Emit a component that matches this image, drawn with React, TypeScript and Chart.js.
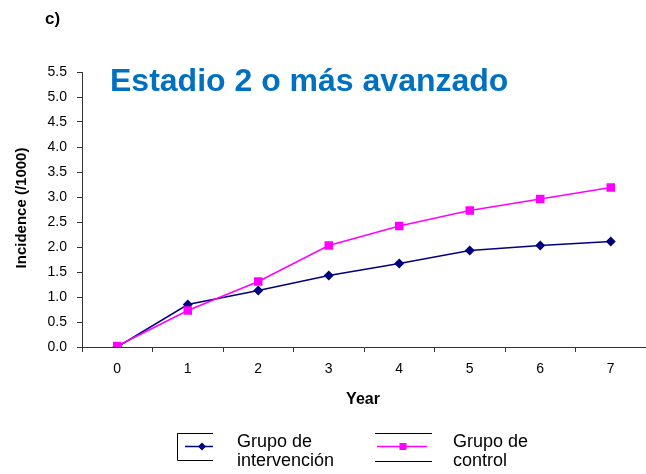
import React, { useEffect, useRef } from "react";
import { Chart, registerables } from "chart.js";

Chart.register(...registerables);

// Years since start and cumulative incidence per 1000
const years = ["0", "1", "2", "3", "4", "5", "6", "7"];
const intervencion = [0.0, 0.85, 1.13, 1.43, 1.67, 1.93, 2.03, 2.11];
const control = [0.02, 0.73, 1.31, 2.03, 2.42, 2.73, 2.96, 3.19];
const yMin = 0;
const yMax = 5.5;
const yStep = 0.5;

const FONT = "'Liberation Sans', Arial, Helvetica, sans-serif";
const NAVY = "#000080";
const PINK = "#FF00FF";
const AXIS = "#333333";

const decorations = {
  id: "decorations",
  afterDraw(chart: Chart) {
    const ctx = chart.ctx;
    ctx.save();

    // panel label
    ctx.fillStyle = "#000";
    ctx.font = `bold 17px ${FONT}`;
    ctx.textAlign = "left";
    ctx.textBaseline = "middle";
    ctx.fillText("c)", 45, 19);

    // title
    ctx.fillStyle = "#0070C0";
    ctx.font = `bold 32px ${FONT}`;
    ctx.textBaseline = "alphabetic";
    ctx.fillText("Estadio 2 o más avanzado", 110, 91);

    // axis titles
    ctx.fillStyle = "#000";
    ctx.font = `bold 16px ${FONT}`;
    ctx.textAlign = "center";
    ctx.textBaseline = "middle";
    ctx.fillText("Year", 363, 400);
    ctx.font = `bold 15px ${FONT}`;
    ctx.save();
    ctx.translate(22, 208);
    ctx.rotate(-Math.PI / 2);
    ctx.fillText("Incidence (/1000)", 0, 0);
    ctx.restore();

    // legend
    ctx.strokeStyle = "#000";
    ctx.lineWidth = 1;
    ctx.beginPath();
    ctx.moveTo(213, 433.5);
    ctx.lineTo(177.5, 433.5);
    ctx.lineTo(177.5, 460.5);
    ctx.lineTo(213, 460.5);
    ctx.moveTo(375, 433.5);
    ctx.lineTo(432, 433.5);
    ctx.moveTo(375, 461.5);
    ctx.lineTo(432, 461.5);
    ctx.stroke();

    ctx.strokeStyle = NAVY;
    ctx.lineWidth = 1.5;
    ctx.beginPath();
    ctx.moveTo(185, 446.5);
    ctx.lineTo(213, 446.5);
    ctx.stroke();
    ctx.fillStyle = NAVY;
    ctx.beginPath();
    ctx.moveTo(202, 442.5);
    ctx.lineTo(206, 446.5);
    ctx.lineTo(202, 450.5);
    ctx.lineTo(198, 446.5);
    ctx.closePath();
    ctx.fill();

    ctx.strokeStyle = PINK;
    ctx.beginPath();
    ctx.moveTo(377, 446.5);
    ctx.lineTo(427, 446.5);
    ctx.stroke();
    ctx.fillStyle = PINK;
    ctx.fillRect(399.5, 443, 7, 7);

    ctx.fillStyle = "#000";
    ctx.font = `18px ${FONT}`;
    ctx.textAlign = "left";
    ctx.textBaseline = "alphabetic";
    ctx.fillText("Grupo de", 237, 447);
    ctx.fillText("intervención", 237, 466);
    ctx.fillText("Grupo de", 453, 447);
    ctx.fillText("control", 453, 466);

    ctx.restore();
  },
};

export default function App() {
  const ref = useRef<HTMLCanvasElement>(null);

  useEffect(() => {
    if (!ref.current) return;
    Chart.defaults.font.family = FONT;
    const chart = new Chart(ref.current, {
      type: "line",
      data: {
        labels: years,
        datasets: [
          {
            label: "Grupo de intervención",
            data: intervencion,
            borderColor: NAVY,
            backgroundColor: NAVY,
            borderWidth: 1.5,
            pointStyle: "rectRot",
            pointRadius: 5,
            pointBorderWidth: 0,
            tension: 0,
            order: 1,
          },
          {
            label: "Grupo de control",
            data: control,
            borderColor: PINK,
            backgroundColor: PINK,
            borderWidth: 1.5,
            pointStyle: "rect",
            pointRadius: 6,
            pointBorderWidth: 0,
            tension: 0,
            order: 0,
          },
        ],
      },
      options: {
        responsive: false,
        animation: false,
        layout: { autoPadding: false, padding: { top: 72, left: 0, right: 0, bottom: 0 } },
        plugins: {
          legend: { display: false },
          tooltip: { enabled: false },
          title: { display: false },
        },
        scales: {
          x: {
            offset: true,
            grid: {
              display: true,
              drawOnChartArea: false,
              drawTicks: true,
              tickLength: 5,
              color: AXIS,
              offset: true,
            },
            border: { color: AXIS, width: 1 },
            ticks: { color: "#000", font: { size: 14, family: FONT }, padding: 9, maxRotation: 0 },
            afterFit(scale: any) {
              scale.height = 127;
              scale.paddingRight = 0;
              scale.paddingLeft = 0;
            },
          },
          y: {
            min: yMin,
            max: yMax,
            grid: {
              display: true,
              drawOnChartArea: false,
              drawTicks: true,
              tickLength: 5,
              color: AXIS,
            },
            border: { color: AXIS, width: 1 },
            ticks: {
              stepSize: yStep,
              color: "#000",
              font: { size: 14, family: FONT },
              padding: 10,
              callback: (v: any) => Number(v).toFixed(1),
            },
            afterFit(scale: any) {
              scale.width = 82;
            },
          },
        },
      },
      plugins: [decorations],
    });
    return () => chart.destroy();
  }, []);

  return (
    <div style={{ position: "absolute", left: 0, top: 0, width: 646, height: 474, background: "#fff" }}>
      <canvas ref={ref} width={646} height={474} />
    </div>
  );
}
